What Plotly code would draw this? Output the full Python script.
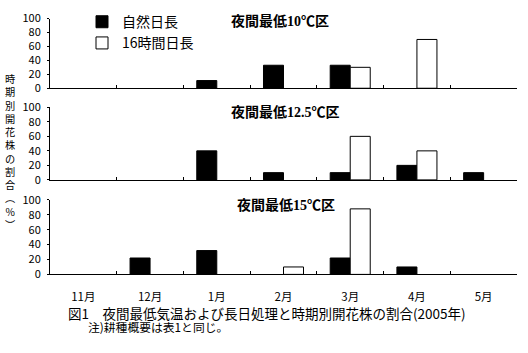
import plotly.graph_objects as go

W, H = 528, 353

months = ["11月", "12月", "1月", "2月", "3月", "4月", "5月"]
series_names = ["自然日長", "16時間日長"]
panel_titles = ["夜間最低10℃区", "夜間最低12.5℃区", "夜間最低15℃区"]

# values (%) per panel: natural day length, 16h day length
nat_10 = [0, 0, 11, 33, 33, 0, 0]
long_10 = [0, 0, 0, 0, 30, 70, 0]
nat_125 = [0, 0, 40, 10, 10, 20, 10]
long_125 = [0, 0, 0, 0, 60, 40, 0]
nat_15 = [0, 22, 32, 0, 22, 10, 0]
long_15 = [0, 0, 0, 10, 88, 0, 0]

y_ticks = [0, 20, 40, 60, 80, 100]
y_title = "時期別開花株の割合︵%︶"
caption = "図1　夜間最低気温および長日処理と時期別開花株の割合(2005年)"
note = "注)耕種概要は表1と同じ。"

def px_x(p):
    return p / W

def px_y(p):
    return 1 - p / H

def nz(vals):
    # zero shares are drawn as no bar at all
    return [v if v else None for v in vals]

# panel pixel extents (top, bottom)
panels = [(10, 83), (103, 179), (200, 278)]
x_dom = [px_x(50), px_x(517)]

sans = "Noto Sans CJK JP, sans-serif"
serif_bold = "Liberation Serif, Noto Sans CJK JP, serif"

fig = go.Figure()
data = [(nat_10, long_10), (nat_125, long_125), (nat_15, long_15)]
for i, (nat, lng) in enumerate(data):
    xa = "x" if i == 0 else f"x{i+1}"
    ya = "y" if i == 0 else f"y{i+1}"
    fig.add_trace(go.Bar(x=months, y=nz(nat), name=series_names[0], xaxis=xa, yaxis=ya,
                         marker=dict(color="black", line=dict(color="black", width=1)),
                         showlegend=(i == 0), legendgroup="a"))
    fig.add_trace(go.Bar(x=months, y=nz(lng), name=series_names[1], xaxis=xa, yaxis=ya,
                         marker=dict(color="white", line=dict(color="black", width=1)),
                         showlegend=(i == 0), legendgroup="b"))

layout = dict(
    width=W, height=H,
    margin=dict(l=0, r=0, t=0, b=0),
    paper_bgcolor="white", plot_bgcolor="white",
    barmode="group", bargap=0.4, bargroupgap=0,
    font=dict(family=sans, color="black", size=11),
    legend=dict(x=px_x(82), y=px_y(-3), xanchor="left", yanchor="top",
                font=dict(family=sans, size=14, color="black"),
                bgcolor="rgba(0,0,0,0)", itemwidth=30, tracegroupgap=3,
                traceorder="normal"),
)
for i, (top, bot) in enumerate(panels):
    sfx = "" if i == 0 else str(i + 1)
    layout[f"xaxis{sfx}"] = dict(
        domain=x_dom, anchor=f"y{sfx}", categoryorder="array", categoryarray=months,
        showline=True, linecolor="black", linewidth=1, ticks="inside", ticklen=3,
        tickcolor="black", tickson="boundaries", showgrid=False, zeroline=False,
        showticklabels=(i == 2), tickfont=dict(family=sans, size=11.5),
        ticklabelstandoff=12, fixedrange=True,
    )
    layout[f"yaxis{sfx}"] = dict(
        domain=[px_y(bot), px_y(top)], anchor=f"x{sfx}", range=[0, 100],
        tickvals=y_ticks, showline=True, linecolor="black", linewidth=1,
        ticks="outside", ticklen=2, tickcolor="black", showgrid=False, zeroline=False,
        tickfont=dict(family=sans, size=11), ticklabelstandoff=4,
    )
fig.update_layout(**layout)

annotations = []
title_pos = [(229, 13), (229, 108), (235, 205)]
for t, (lx, cy) in zip(panel_titles, title_pos):
    annotations.append(dict(text=f"<b>{t}</b>", x=px_x(lx), y=px_y(cy), xref="paper", yref="paper",
                            xanchor="left", yanchor="middle", showarrow=False,
                            font=dict(family=serif_bold, size=14, color="black")))
annotations.append(dict(text="<br>".join(list(y_title)), x=px_x(10), y=px_y(149),
                        xref="paper", yref="paper", xanchor="center", yanchor="middle",
                        showarrow=False, font=dict(family=sans, size=10.2, color="black")))
annotations.append(dict(text=caption, x=px_x(66), y=px_y(318), xref="paper", yref="paper",
                        xanchor="left", yanchor="middle", showarrow=False,
                        font=dict(family=sans, size=13.5, color="black")))
annotations.append(dict(text=note, x=px_x(86), y=px_y(333), xref="paper", yref="paper",
                        xanchor="left", yanchor="middle", showarrow=False,
                        font=dict(family=sans, size=11.8, color="black")))
fig.update_layout(annotations=annotations)

fig.write_html("out.html")
